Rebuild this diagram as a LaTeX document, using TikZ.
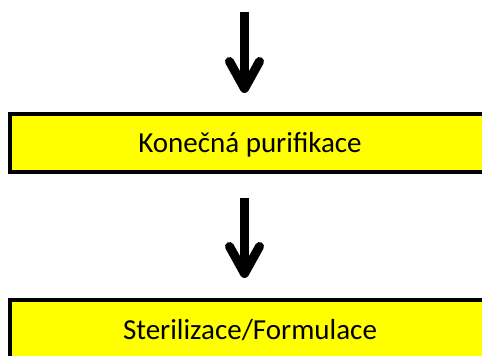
\documentclass[tikz,border=0pt]{standalone}
\usepackage{fontspec}
\setmainfont{Carlito}
\usetikzlibrary{arrows.meta,positioning}
\definecolor{stepyellow}{HTML}{FFFF00}
\tikzset{
  pbox/.style={rectangle,draw=black,fill=stepyellow,line width=4pt,
    minimum width=500pt,minimum height=58pt,inner sep=0pt},
  plabel/.style={font=\fontsize{29}{34}\selectfont,anchor=base},
  parrow/.style={-{Straight Barb[length=27pt,width=30pt,round]},line width=9pt},
}

\begin{document}
\begin{tikzpicture}[x=1pt,y=-1pt]
  \useasboundingbox (0,0) rectangle (482,356);
  \coordinate (in) at (244.5,12);
  \node[pbox] (purif) at (260,143){};
  \node[pbox] (steril) at (260,329){};
  % labels centred on the visible part of the boxes
  \node[plabel] (purift) at (250,152){Konečná purifikace};
  \node[plabel] (sterilt) at (250,339){Sterilizace/Formulace};
  \draw[parrow] (in)--([xshift=-15.5pt,yshift=19pt]purif.north);
  \draw[parrow] ([xshift=-15.5pt,yshift=-24pt]purif.south)--([xshift=-15.5pt,yshift=20pt]steril.north);
\end{tikzpicture}
\end{document}
